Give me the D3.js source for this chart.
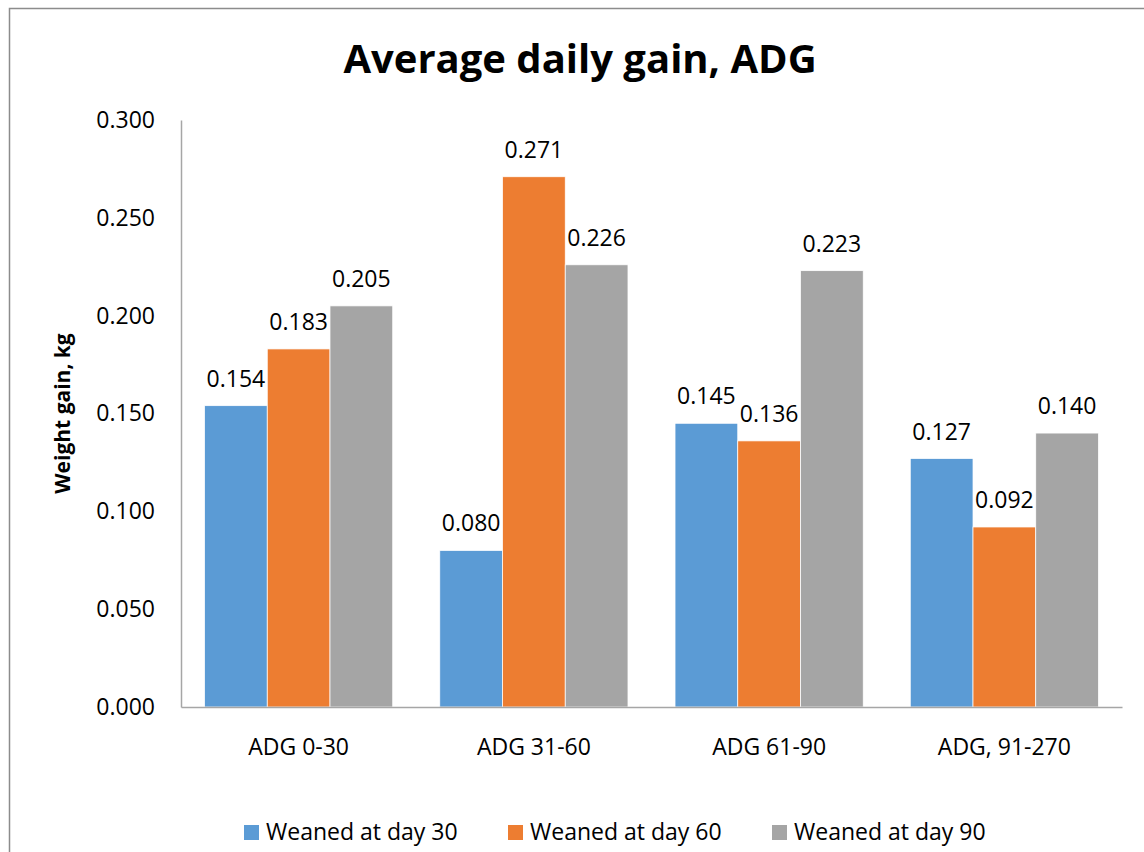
<!DOCTYPE html>
<html>
<head>
<meta charset="utf-8">
<script src="https://cdn.jsdelivr.net/npm/d3@7"></script>
<style>
  html, body { margin: 0; padding: 0; background: #fff; }
  svg { display: block; }
  text { font-family: "Open Sans", "Noto Sans", sans-serif; fill: #000; }
</style>
</head>
<body>
<script>
// Average daily gain by period, for three weaning ages
const categories = ["ADG 0-30", "ADG 31-60", "ADG 61-90", "ADG, 91-270"];
const seriesNames = ["Weaned at day 30", "Weaned at day 60", "Weaned at day 90"];
const weanedDay30 = [0.154, 0.080, 0.145, 0.127];
const weanedDay60 = [0.183, 0.271, 0.136, 0.092];
const weanedDay90 = [0.205, 0.226, 0.223, 0.140];
const yTicks = [0, 0.05, 0.1, 0.15, 0.2, 0.25, 0.3];
const colors = ["#5B9BD5", "#ED7D31", "#A5A5A5"];

const seriesValues = [weanedDay30, weanedDay60, weanedDay90];

const W = 1144, H = 852;
const margin = { left: 181, right: 22, top: 120, bottom: 145 };
const fs = 23;

const svg = d3.select("body").append("svg").attr("width", W).attr("height", H);

// chart frame
svg.append("rect")
  .attr("x", 9.5).attr("y", 8.5)
  .attr("width", W + 20).attr("height", H + 20)
  .attr("fill", "#fff").attr("stroke", "#8c8c8c").attr("stroke-width", 1.5);

const x0 = d3.scaleBand().domain(categories)
  .range([margin.left, W - margin.right])
  .paddingInner(0.75 / 3.75).paddingOuter(0.375 / 3.75);
const x1 = d3.scaleBand().domain(d3.range(seriesNames.length))
  .range([0, x0.bandwidth()]);
const y = d3.scaleLinear().domain([0, 0.3]).range([H - margin.bottom, margin.top]);

// title
svg.append("text")
  .attr("x", 580).attr("y", 73)
  .attr("text-anchor", "middle")
  .attr("font-size", 40).attr("font-weight", "bold")
  .text("Average daily gain, ADG");

// y axis
const yAxis = svg.append("g")
  .attr("transform", `translate(${margin.left},0)`)
  .call(d3.axisLeft(y).tickValues(yTicks).tickSize(0).tickPadding(26).tickFormat(d3.format(".3f")));
yAxis.select(".domain").attr("stroke", "#a6a6a6").attr("stroke-width", 1.5);
yAxis.selectAll("text").attr("font-size", fs).style("font-family", null);

// y axis title
svg.append("text")
  .attr("transform", `translate(70,${(margin.top + H - margin.bottom) / 2}) rotate(-90)`)
  .attr("text-anchor", "middle")
  .attr("font-size", 21).attr("font-weight", "bold")
  .text("Weight gain, kg");

// bars
const groups = svg.append("g").selectAll("g")
  .data(categories)
  .join("g")
  .attr("transform", d => `translate(${x0(d)},0)`);

groups.selectAll("rect")
  .data((c, i) => seriesValues.map((s, k) => ({ k, v: s[i] })))
  .join("rect")
  .attr("x", d => x1(d.k))
  .attr("y", d => y(d.v))
  .attr("width", x1.bandwidth())
  .attr("height", d => y(0) - y(d.v))
  .attr("fill", d => colors[d.k])
  .attr("stroke", "#fff").attr("stroke-width", 0.75);

// value labels
groups.selectAll("text.val")
  .data((c, i) => seriesValues.map((s, k) => ({ k, v: s[i] })))
  .join("text")
  .attr("class", "val")
  .attr("x", d => x1(d.k) + x1.bandwidth() / 2)
  .attr("y", d => y(d.v) - 19)
  .attr("text-anchor", "middle")
  .attr("font-size", fs)
  .text(d => d3.format(".3f")(d.v));

// x axis
const xAxis = svg.append("g")
  .attr("transform", `translate(0,${y(0)})`)
  .call(d3.axisBottom(x0).tickSize(0).tickPadding(32));
xAxis.select(".domain").attr("stroke", "#a6a6a6").attr("stroke-width", 1.5);
xAxis.selectAll("text").attr("font-size", fs).style("font-family", null);

// legend
const legendX = [244, 508, 772];
const legend = svg.append("g").selectAll("g")
  .data(seriesNames)
  .join("g")
  .attr("transform", (d, i) => `translate(${legendX[i]},825)`);
legend.append("rect")
  .attr("width", 15).attr("height", 15)
  .attr("fill", (d, i) => colors[i]);
legend.append("text")
  .attr("x", 22).attr("y", 15)
  .attr("font-size", fs)
  .text(d => d);
</script>
</body>
</html>
